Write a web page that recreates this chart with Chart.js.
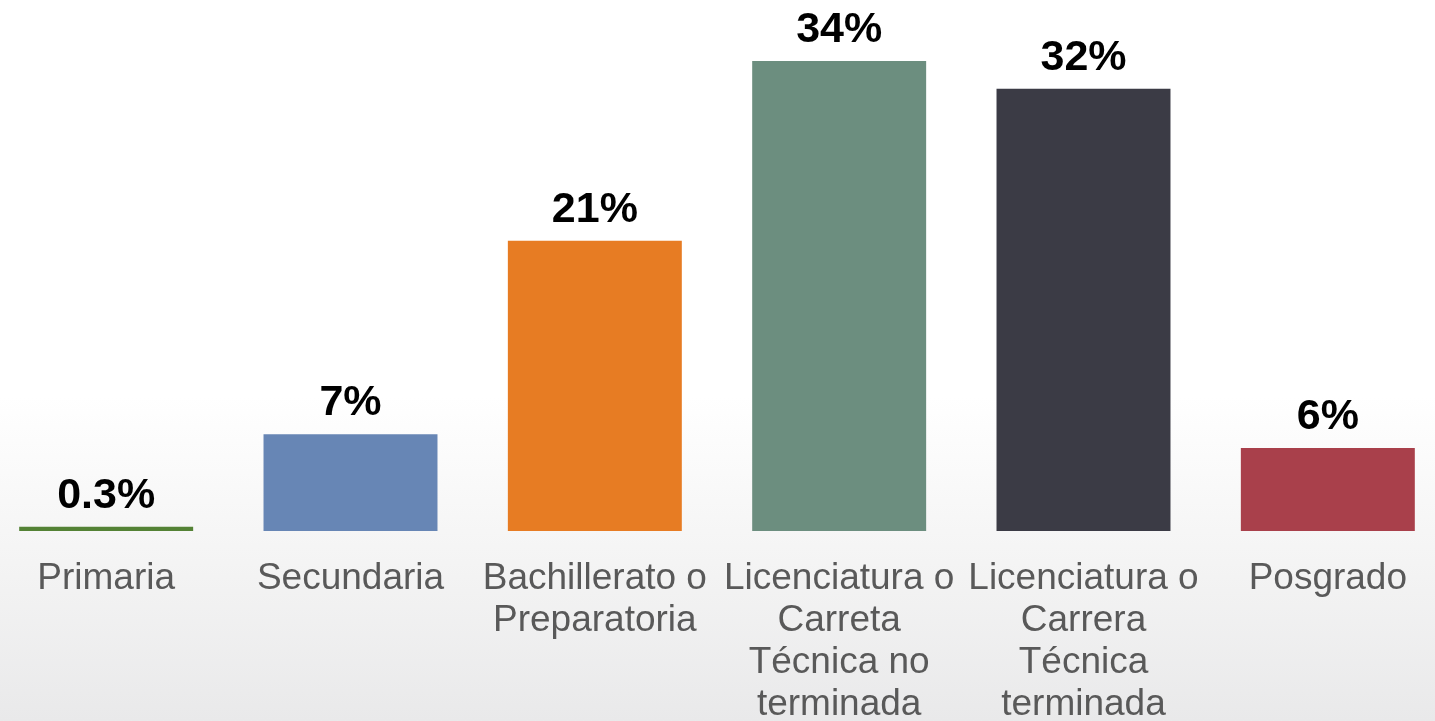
<!DOCTYPE html>
<html>
<head>
<meta charset="utf-8">
<script src="https://cdn.jsdelivr.net/npm/chart.js@4.4.1/dist/chart.umd.min.js"></script>
<style>
  html, body { margin: 0; padding: 0; width: 1435px; height: 721px; overflow: hidden;
    background: linear-gradient(to bottom, #ffffff 0%, #ffffff 55%, #f3f3f3 80%, #e9e9ea 100%); }
  #wrap { position: absolute; left: -16px; top: 0; width: 1466px; height: 721px; }
</style>
</head>
<body>
<div id="wrap"><canvas id="c" width="1466" height="721"></canvas></div>
<script>
const categories = [
  "Primaria",
  "Secundaria",
  ["Bachillerato o", "Preparatoria"],
  ["Licenciatura o", "Carreta", "Técnica no", "terminada"],
  ["Licenciatura o", "Carrera", "Técnica", "terminada"],
  "Posgrado"
];
const values = [0.3, 7, 21, 34, 32, 6];
const valueLabels = ["0.3%", "7%", "21%", "34%", "32%", "6%"];
const barColors = ["#548235", "#6786b5", "#e77c23", "#6c8e7f", "#3b3b45", "#a9404b"];

const dataLabelPlugin = {
  id: 'dataLabels',
  afterDatasetsDraw(chart) {
    const ctx = chart.ctx;
    const meta = chart.getDatasetMeta(0);
    ctx.save();
    ctx.font = 'bold 43px "Liberation Sans", Arial, sans-serif';
    ctx.fillStyle = '#000000';
    ctx.textAlign = 'center';
    ctx.textBaseline = 'alphabetic';
    meta.data.forEach((bar, i) => {
      ctx.fillText(valueLabels[i], bar.x, bar.y - 19);
    });
    ctx.restore();
  }
};

new Chart(document.getElementById('c'), {
  type: 'bar',
  data: {
    labels: categories,
    datasets: [{
      data: values,
      backgroundColor: barColors,
      borderWidth: 0,
      barPercentage: 0.712,
      categoryPercentage: 1.0
    }]
  },
  options: {
    responsive: false,
    animation: false,
    layout: { padding: 0 },
    plugins: { legend: { display: false }, tooltip: { enabled: false } },
    scales: {
      x: {
        grid: { display: false, drawTicks: false },
        border: { display: false },
        ticks: {
          color: '#595959',
          font: { family: '"Liberation Sans", Arial, sans-serif', size: 37, lineHeight: 1.135 },
          padding: 27,
          maxRotation: 0,
          autoSkip: false
        },
        afterFit(scale) { scale.height = 721 - 531; }
      },
      y: {
        display: false,
        min: 0,
        max: 38.42
      }
    }
  },
  plugins: [dataLabelPlugin]
});
</script>
</body>
</html>
